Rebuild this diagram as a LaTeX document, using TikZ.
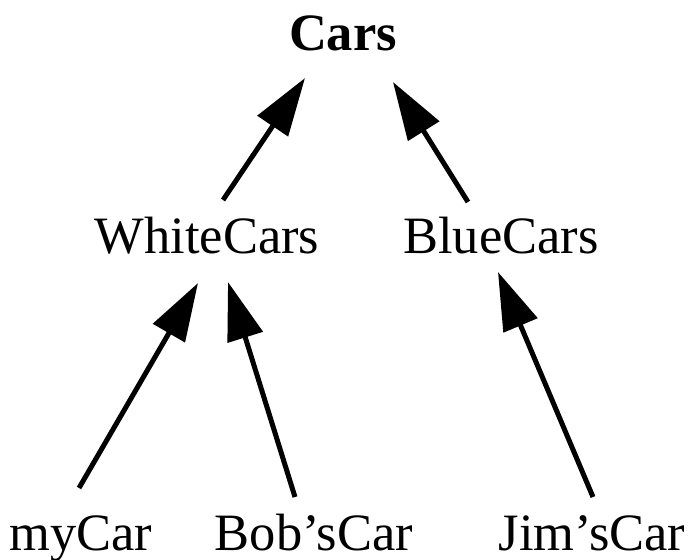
\documentclass[tikz,border=0pt]{standalone}
\usepackage{fontspec}
\setmainfont{Liberation Serif}
\usetikzlibrary{arrows.meta,calc}
\begin{document}
\begin{tikzpicture}[x=1pt,y=-1pt,
  lbl/.style={anchor=base,inner sep=0pt,font=\fontsize{52.5pt}{60pt}\selectfont},
  arr/.style={line width=5pt,-{Triangle[length=58pt,width=36pt]}}]
\path[use as bounding box] (0,0) rectangle (694,560);
\node[lbl,font=\fontsize{52.5pt}{60pt}\selectfont\bfseries] (cars) at (343,50) {Cars};
\node[lbl] (wc) at (207,253) {WhiteCars};
\node[lbl] (bc) at (501,253) {BlueCars};
\node[lbl] (my) at (81,550) {myCar};
\node[lbl] (bob) at (314,550) {Bob’sCar};
\node[lbl] (jim) at (592,550) {Jim’sCar};
\draw[arr] ($(wc.base)+(16,-53)$) -- ($(cars.base)+(-38,28)$);
\draw[arr] ($(bc.base)+(-33,-51)$) -- ($(cars.base)+(50,32)$);
\draw[arr] ($(my.base)+(-2,-62)$) -- ($(wc.base)+(-9,30)$);
\draw[arr] ($(bob.base)+(-19,-53)$) -- ($(wc.base)+(21,29)$);
\draw[arr] ($(jim.base)+(1,-53)$) -- ($(bc.base)+(-3,19)$);
\end{tikzpicture}
\end{document}
